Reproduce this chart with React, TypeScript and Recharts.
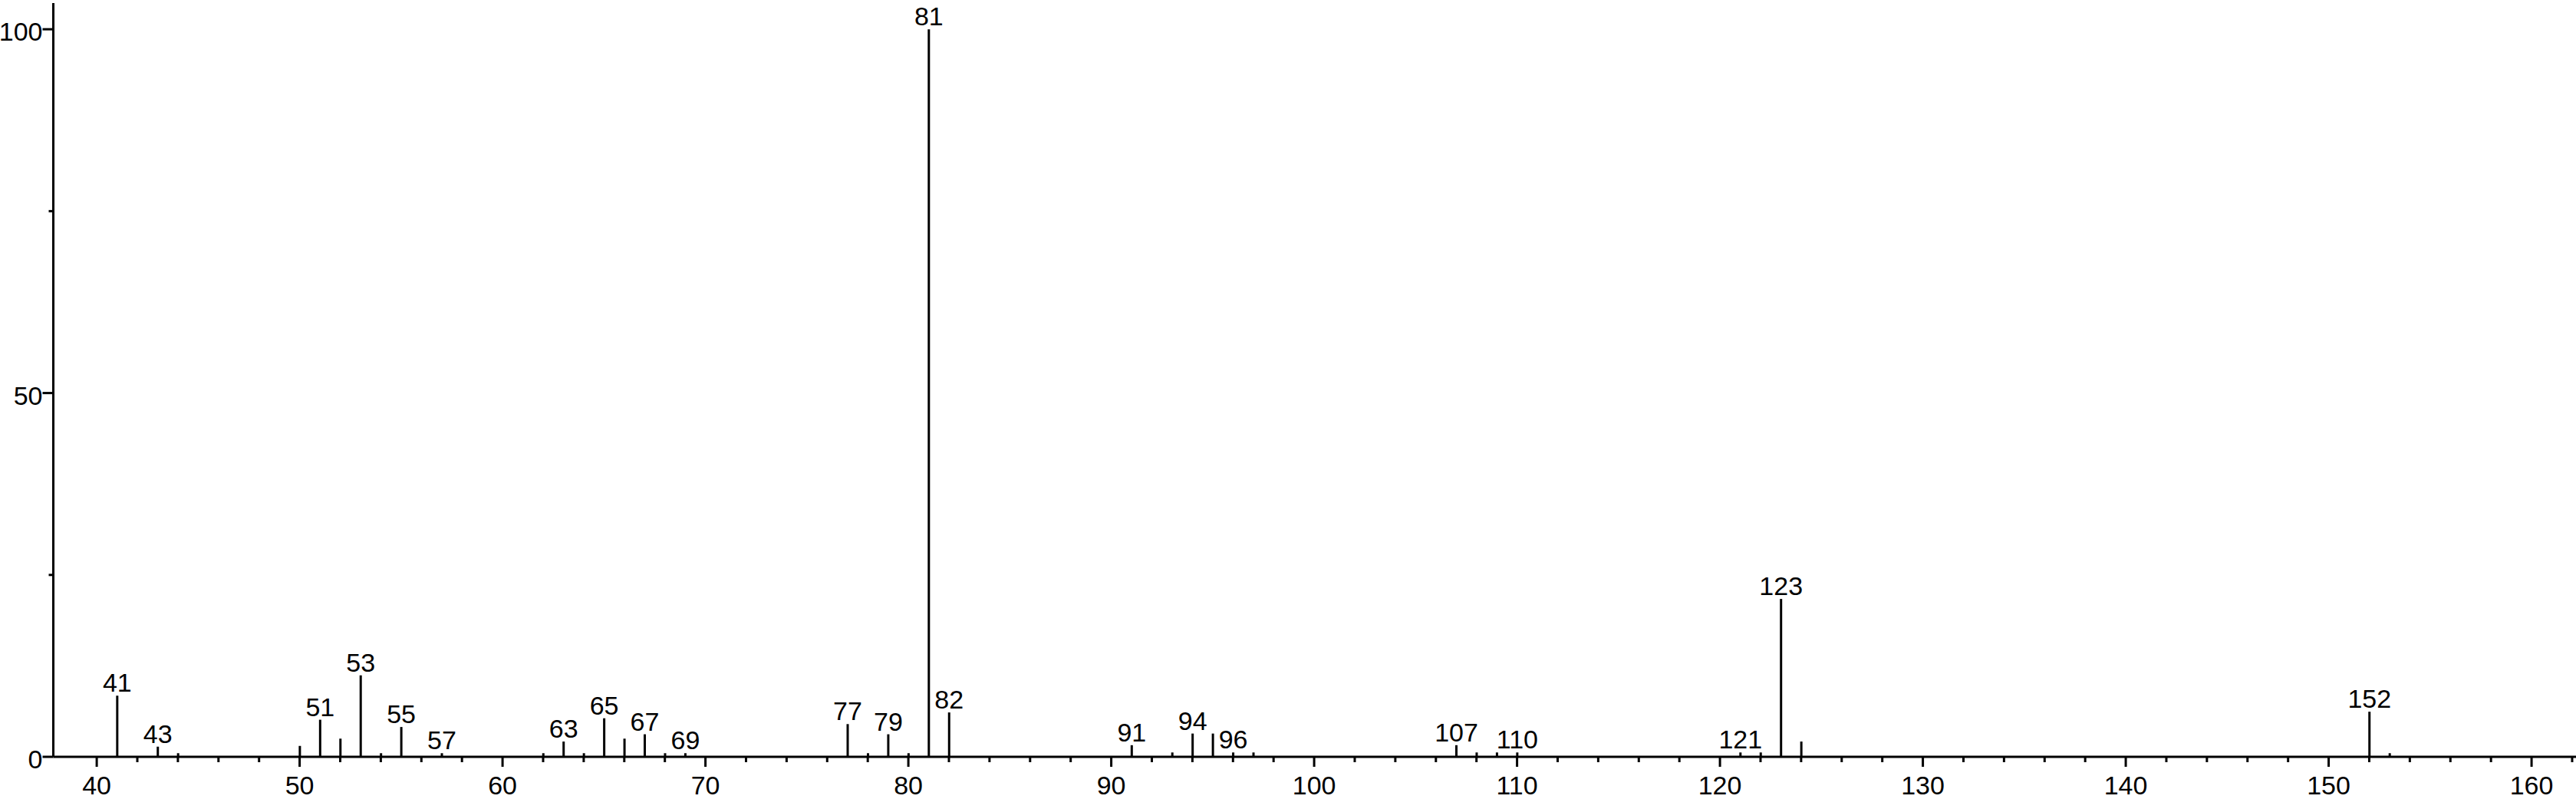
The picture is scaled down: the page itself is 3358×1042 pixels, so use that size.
import React from 'react';
import { BarChart, Bar, XAxis, YAxis, LabelList } from 'recharts';

// m/z values and relative intensities
const masses = [
  41, 43, 44, 50, 51, 52, 53, 54, 55, 57,
  62, 63, 64, 65, 66, 67, 68, 69, 77, 78,
  79, 80, 81, 82, 91, 93, 94, 95, 96, 97,
  107, 108, 109, 110, 121, 122, 123, 124, 152, 153,
];
const intensities = [
  8.4, 1.4, 0.5, 1.5, 5.1, 2.5, 11.2, 0.5, 4.1, 0.5,
  0.5, 2.1, 0.5, 5.3, 2.5, 3.1, 0.5, 0.5, 4.5, 0.5,
  3.1, 0.5, 100, 6.1, 1.6, 0.6, 3.2, 3.2, 0.6, 0.6,
  1.6, 0.6, 0.6, 0.6, 0.6, 0.6, 21.7, 2.1, 6.2, 0.5,
];
const labeledMasses = [41, 43, 51, 53, 55, 57, 63, 65, 67, 69, 77, 79, 81, 82, 91, 94, 96, 107, 110, 121, 123, 152];

const xTicks = [
  40, 42, 44, 46, 48, 50, 52, 54, 56, 58, 60, 62, 64, 66, 68, 70, 72, 74, 76, 78,
  80, 82, 84, 86, 88, 90, 92, 94, 96, 98, 100, 102, 104, 106, 108, 110, 112, 114, 116, 118,
  120, 122, 124, 126, 128, 130, 132, 134, 136, 138, 140, 142, 144, 146, 148, 150, 152, 154, 156, 158,
  160, 162,
];
const yTicks = [0, 25, 50, 75, 100];
const yLabeledTicks = [0, 50, 100];

const data = masses.map((mz, i) => ({
  mz,
  intensity: intensities[i],
  label: labeledMasses.includes(mz) ? String(mz) : undefined,
}));

const FONT = '"Liberation Sans", Arial, Helvetica, sans-serif';
const FONT_SIZE = 34;

const XTick = (props: any) => {
  const { x, y, payload } = props;
  const major = payload.value % 10 === 0;
  return (
    <g>
      <line x1={x} x2={x} y1={y - 13} y2={major ? y : y - 6} stroke="#000" strokeWidth={3} />
      {major && (
        <text x={x} y={y + 36} textAnchor="middle" fontSize={FONT_SIZE} fontFamily={FONT} fill="#000">
          {payload.value}
        </text>
      )}
    </g>
  );
};

const YTick = (props: any) => {
  const { x, y, payload } = props;
  const major = yLabeledTicks.includes(payload.value);
  return (
    <g>
      <line x1={major ? x : x + 8} x2={x + 14} y1={y} y2={y} stroke="#000" strokeWidth={3} />
      {major && (
        <text x={x} y={y + 15} textAnchor="end" fontSize={FONT_SIZE} fontFamily={FONT} fill="#000">
          {payload.value}
        </text>
      )}
    </g>
  );
};

export default function App() {
  return (
    <div style={{ position: 'absolute', left: 0, top: 0, background: '#fff' }}>
      <BarChart
        width={3358}
        height={1042}
        data={data}
        margin={{ top: 4, right: 0, bottom: 0, left: 0 }}
      >
        <XAxis
          dataKey="mz"
          type="number"
          domain={[37.86, 162.19]}
          allowDataOverflow
          ticks={xTicks}
          interval={0}
          height={55}
          tickSize={13}
          tickMargin={0}
          tickLine={false}
          axisLine={{ stroke: '#000', strokeWidth: 3 }}
          tick={<XTick />}
        />
        <YAxis
          type="number"
          domain={[0, 103.6]}
          allowDataOverflow
          ticks={yTicks}
          interval={0}
          width={69.5}
          tickSize={14}
          tickMargin={0}
          tickLine={false}
          axisLine={{ stroke: '#000', strokeWidth: 3 }}
          tick={<YTick />}
        />
        <Bar dataKey="intensity" fill="#000" barSize={3} isAnimationActive={false}>
          <LabelList
            dataKey="label"
            position="top"
            offset={5}
            fontSize={FONT_SIZE}
            fontFamily={FONT}
            fill="#000"
          />
        </Bar>
      </BarChart>
    </div>
  );
}
